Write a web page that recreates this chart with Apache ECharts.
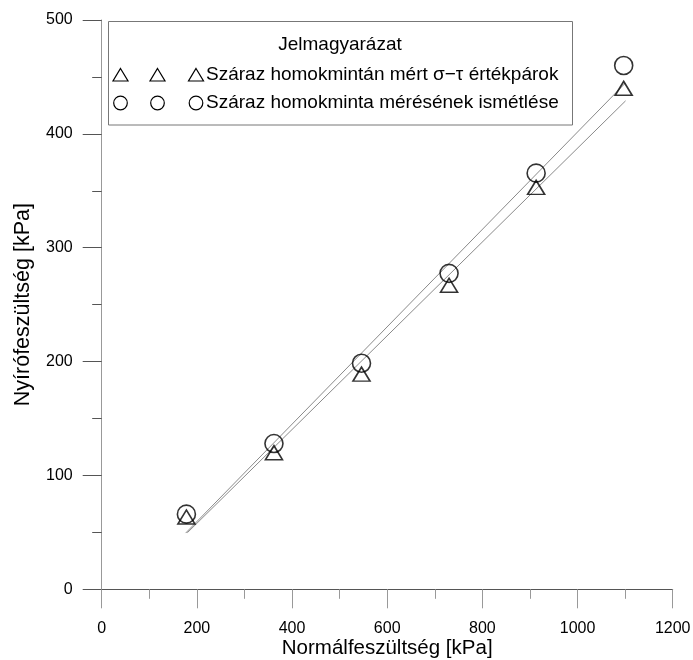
<!DOCTYPE html>
<html>
<head>
<meta charset="utf-8">
<script src="https://cdn.jsdelivr.net/npm/echarts@6/dist/echarts.min.js"></script>
<style>
  html, body { margin: 0; padding: 0; background: #fff; }
  #chart { width: 693px; height: 660px; }
</style>
</head>
<body>
<div id="chart"></div>
<script>
// Normal stress levels of the direct shear tests [kPa]
const sigmaNormal = [178, 362, 546, 730, 913, 1097];
// Shear strength, first series on dry sand [kPa]
const tauDry = [63.5, 120, 189, 267, 353, 440];
// Shear strength, repeated measurement [kPa]
const tauRepeat = [66, 128, 198.5, 277.5, 365.5, 460];
// Fitted failure envelopes (end points) [kPa]
const fitDry = [[180, 49.7], [1101, 429]];
const fitRepeat = [[176.5, 49.4], [1100, 444.4]];

const legendTitle = 'Jelmagyarázat';
const seriesNames = [
  'Száraz homokmintán mért σ−τ értékpárok',
  'Száraz homokminta mérésének ismétlése'
];
const xTicks = [0, 200, 400, 600, 800, 1000, 1200];
const yTicks = [0, 100, 200, 300, 400, 500];
const xName = 'Normálfeszültség [kPa]';
const yName = 'Nyírófeszültség [kPa]';

const FONT = '"Liberation Sans", Arial, sans-serif';
const pairs = (xs, ys) => xs.map((x, i) => [x, ys[i]]);

const chart = echarts.init(document.getElementById('chart'), null, { renderer: 'canvas' });

// legend box drawn with graphic elements: three marker glyphs per row
const legendRowsY = [75, 103];
const legendMarkX = [120.5, 157.5, 196];
const legendGraphics = [
  { type: 'rect', shape: { x: 108.5, y: 21.5, width: 464, height: 103.5 },
    style: { fill: '#fff', stroke: '#777', lineWidth: 1 }, z: 10 },
  { type: 'text', x: 340, y: 45, z: 11,
    style: { text: legendTitle, font: '19px ' + FONT, fill: '#000', align: 'center', verticalAlign: 'middle' } }
];
legendMarkX.forEach(function (cx) {
  const cy = legendRowsY[0];
  legendGraphics.push({ type: 'polygon', z: 11,
    shape: { points: [[cx, cy - 6.5], [cx + 7.5, cy + 6], [cx - 7.5, cy + 6]] },
    style: { fill: 'none', stroke: '#000', lineWidth: 1.2 } });
  legendGraphics.push({ type: 'circle', z: 11,
    shape: { cx: cx, cy: legendRowsY[1], r: 6.8 },
    style: { fill: 'none', stroke: '#000', lineWidth: 1.2 } });
});
seriesNames.forEach(function (name, i) {
  legendGraphics.push({ type: 'text', x: 206, y: legendRowsY[i], z: 11,
    style: { text: name, font: '19px ' + FONT, fill: '#000', align: 'left', verticalAlign: 'middle' } });
});

const tickLabel = { fontSize: 16, fontFamily: FONT, color: '#000' };

chart.setOption({
  animation: false,
  backgroundColor: '#fff',
  grid: { left: 101.7, right: 20.3, top: 20, bottom: 70.7, containLabel: false, outerBoundsMode: 'none' },
  xAxis: {
    type: 'value', min: 0, max: 1200, interval: 200,
    name: xName, nameLocation: 'middle', nameGap: 49, nameMoveOverlap: false,
    nameTextStyle: { fontSize: 20.5, fontFamily: FONT, color: '#000' },
    axisLine: { show: true, onZero: false, lineStyle: { color: '#555', width: 1 } },
    axisTick: { show: true, inside: false, length: 19, lineStyle: { color: '#999', width: 1 } },
    minorTick: { show: true, splitNumber: 2, length: 9.5, lineStyle: { color: '#999', width: 1 } },
    axisLabel: Object.assign({ margin: 31, formatter: function (v) { return xTicks.indexOf(v) >= 0 ? String(v) : ''; } }, tickLabel),
    splitLine: { show: false }
  },
  yAxis: {
    type: 'value', min: 0, max: 500, interval: 100,
    name: yName, nameLocation: 'middle', nameGap: 68, nameMoveOverlap: false,
    nameTextStyle: { fontSize: 21.5, fontFamily: FONT, color: '#000' },
    axisLine: { show: true, onZero: false, lineStyle: { color: '#999', width: 1 } },
    axisTick: { show: true, inside: false, length: 19, lineStyle: { color: '#555', width: 1 } },
    minorTick: { show: true, splitNumber: 2, length: 9.5, lineStyle: { color: '#555', width: 1 } },
    axisLabel: Object.assign({ margin: 29, formatter: function (v) { return yTicks.indexOf(v) >= 0 ? String(v) : ''; } }, tickLabel),
    splitLine: { show: false }
  },
  graphic: legendGraphics,
  series: [
    {
      name: 'fitDry', type: 'line', data: fitDry, symbol: 'none', silent: true,
      lineStyle: { color: '#8a8a8a', width: 1 }, z: 2
    },
    {
      name: 'fitRepeat', type: 'line', data: fitRepeat, symbol: 'none', silent: true,
      lineStyle: { color: '#8a8a8a', width: 1 }, z: 2
    },
    {
      name: seriesNames[1], type: 'scatter', data: pairs(sigmaNormal, tauRepeat),
      symbol: 'circle', symbolSize: 18,
      itemStyle: { color: 'rgba(0,0,0,0)', borderColor: '#000', borderWidth: 1.6 }, z: 3
    },
    {
      name: seriesNames[0], type: 'scatter', data: pairs(sigmaNormal, tauDry),
      symbol: 'triangle', symbolSize: [17, 14],
      itemStyle: { color: 'rgba(0,0,0,0)', borderColor: '#000', borderWidth: 1.6 }, z: 3
    }
  ]
});
</script>
</body>
</html>
